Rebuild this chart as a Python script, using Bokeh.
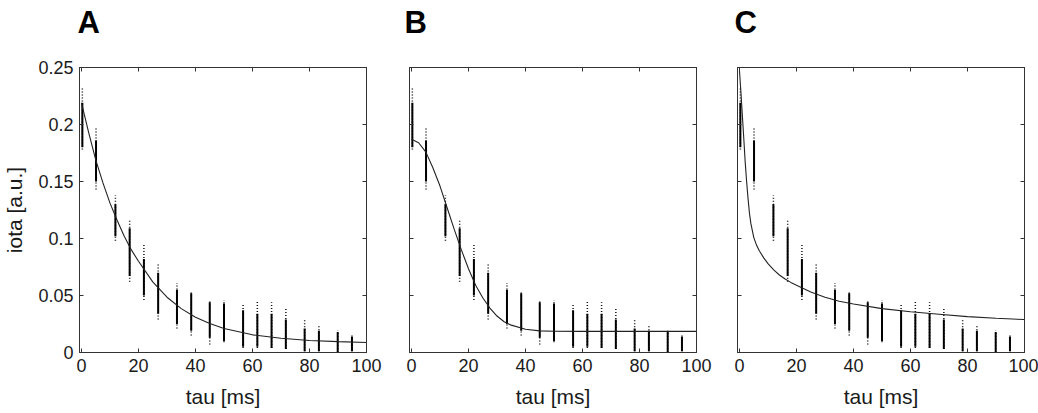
from bokeh.plotting import figure
from bokeh.layouts import row
from bokeh.models import (LinearAxis, FixedTicker, CustomJSTickFormatter,
                          Range1d, ColumnDataSource)
from bokeh.embed import file_html
from bokeh.resources import INLINE

# ---------------- data ----------------
tau = [0.3, 5.1, 11.9, 16.9, 21.9, 26.9, 33.5, 38.5, 45.0, 50.0,
       56.7, 61.7, 66.7, 71.7, 78.3, 83.3, 89.9, 94.9]
sparse_hi = [0.232, 0.197, 0.138, 0.116, 0.096, 0.078, 0.061, 0.054, 0.046, 0.046,
             0.043, 0.045, 0.044, 0.040, 0.030, 0.023, 0.019, 0.015]
dense_hi = [0.219, 0.186, 0.130, 0.109, 0.082, 0.070, 0.055, 0.052, 0.044, 0.043,
            0.037, 0.034, 0.034, 0.029, 0.021, 0.019, 0.018, 0.014]
dense_lo = [0.180, 0.150, 0.102, 0.067, 0.050, 0.034, 0.025, 0.019, 0.013, 0.010,
            0.005, 0.005, 0.004, 0.003, 0.001, 0.001, 0.0005, 0.001]
sparse_lo = [0.178, 0.143, 0.098, 0.062, 0.046, 0.029, 0.021, 0.015, 0.007, 0.009,
             0.004, 0.004, 0.004, 0.003, 0.001, 0.001, 0.0005, 0.001]

fitA_x = [0, 2.5, 5, 7.5, 10, 12.5, 15, 17.5, 20, 25, 30, 35, 40, 45, 50,
          60, 70, 80, 90, 100]
fitA_y = [0.219, 0.193, 0.169, 0.149, 0.131, 0.116, 0.102, 0.090, 0.080, 0.062,
          0.0485, 0.0385, 0.031, 0.0255, 0.021, 0.0155, 0.0125, 0.0105, 0.0095, 0.0088]

fitB_x = [0, 2.5, 5, 7.5, 10, 12.5, 15, 17.5, 20, 22.5, 25, 27.5, 30, 32.5, 35,
          40, 45, 50, 60, 80, 100]
fitB_y = [0.187, 0.184, 0.176, 0.162, 0.146, 0.127, 0.108, 0.090, 0.0735, 0.059,
          0.048, 0.039, 0.032, 0.027, 0.024, 0.0204, 0.019, 0.0186, 0.0185, 0.0185, 0.0185]

fitC_x = [0, 0.5, 1, 1.5, 2, 2.5, 3, 3.5, 4, 5, 6, 7, 8.5, 10, 12, 14, 16, 18, 20,
          25, 30, 35, 40, 50, 60, 70, 80, 90, 100]
fitC_y = [0.247, 0.228, 0.208, 0.188, 0.167, 0.150, 0.135, 0.122, 0.113, 0.101,
          0.094, 0.089, 0.083, 0.078, 0.0725, 0.068, 0.0645, 0.0615, 0.059,
          0.053, 0.0485, 0.045, 0.0425, 0.0385, 0.0358, 0.0336, 0.0315, 0.030, 0.0289]

panel_labels = ["A", "B", "C"]
x_ticks = [0, 20, 40, 60, 80, 100]
y_ticks = [0, 0.05, 0.1, 0.15, 0.2, 0.25]
x_label = "tau [ms]"
y_label = "iota [a.u.]"

FONT = "Liberation Sans"
FRAME = "#333333"
TXT = "#1a1a1a"


def style_axis(ax, ticks, show_labels, blank=""):
    ax.ticker = FixedTicker(ticks=ticks)
    ax.major_tick_in = 4
    ax.major_tick_out = 0
    ax.minor_tick_line_color = None
    ax.axis_line_color = FRAME
    ax.major_tick_line_color = FRAME
    ax.major_label_text_font = FONT
    ax.major_label_text_color = TXT
    if show_labels:
        ax.major_label_text_font_size = "18px"
        ax.major_label_standoff = 6
    else:
        ax.formatter = CustomJSTickFormatter(code="return '%s'" % blank)
        ax.major_label_text_font_size = "1px"
        ax.major_label_standoff = 22 if blank else 0


def make_panel(label, fx, fy, show_ylab, width, left, right, lab_dx):
    p = figure(width=width, height=413, x_range=Range1d(-0.7, 100),
               y_range=Range1d(0, 0.25), output_backend="svg",
               toolbar_location=None, min_border_left=left,
               min_border_right=right, min_border_top=66, min_border_bottom=61,
               title=label)
    p.background_fill_color = "white"
    p.border_fill_color = "white"
    p.outline_line_color = FRAME
    p.grid.visible = False

    p.title.text_font = FONT
    p.title.text_font_size = "31px"
    p.title.text_font_style = "bold"
    p.title.text_color = "black"
    p.title.align = "left"
    p.title.offset = lab_dx
    p.title.standoff = 4

    xb = p.xaxis[0]
    style_axis(xb, x_ticks, True)
    xb.axis_label = x_label
    xb.axis_label_text_font = FONT
    xb.axis_label_text_font_size = "21px"
    xb.axis_label_text_font_style = "normal"
    xb.axis_label_text_color = TXT
    xb.axis_label_standoff = 10

    yl = p.yaxis[0]
    style_axis(yl, y_ticks, show_ylab)
    if show_ylab:
        yl.axis_label = y_label
        yl.axis_label_text_font = FONT
        yl.axis_label_text_font_size = "21px"
        yl.axis_label_text_font_style = "normal"
        yl.axis_label_text_color = TXT
        yl.axis_label_standoff = 9

    # top axis: blank (space) labels keep a gap between the frame and the panel letter
    top = LinearAxis()
    style_axis(top, x_ticks, False, blank=" ")
    p.add_layout(top, "above")
    rgt = LinearAxis()
    style_axis(rgt, y_ticks, False)
    p.add_layout(rgt, "right")

    src = ColumnDataSource(dict(tau=tau, shi=sparse_hi, dhi=dense_hi,
                                dlo=dense_lo, slo=sparse_lo))
    p.segment(x0="tau", y0="slo", x1="tau", y1="shi", source=src,
              line_color="#111111", line_width=1.5, line_dash="1 2")
    p.segment(x0="tau", y0="dlo", x1="tau", y1="dhi", source=src,
              line_color="black", line_width=2.0)
    p.line(fx, fy, line_color="#222222", line_width=1.1)
    return p


pA = make_panel(panel_labels[0], fitA_x, fitA_y, True, 387, 79, 21, -2)
pB = make_panel(panel_labels[1], fitB_x, fitB_y, False, 329, 22, 20, -5)
pC = make_panel(panel_labels[2], fitC_x, fitC_y, False, 322, 21, 14, -3)

layout = row(pA, pB, pC, spacing=0)
open("out.html", "w").write(file_html(layout, INLINE))
